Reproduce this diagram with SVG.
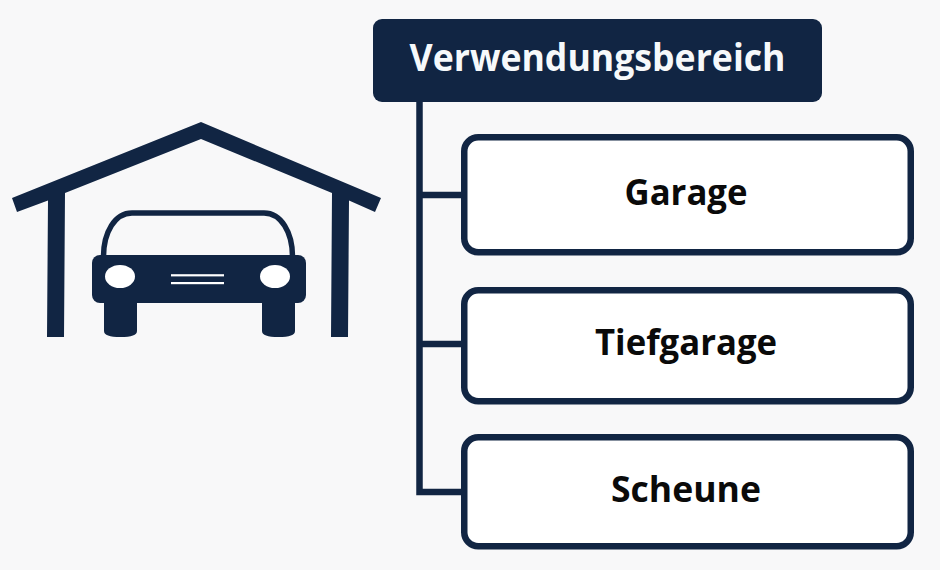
<svg xmlns="http://www.w3.org/2000/svg" width="940" height="570" viewBox="0 0 940 570">
<style>
.navy{fill:#112543}
.box{fill:#fff;stroke:#112543;stroke-width:6.5}
.lbl{font-family:"Open Sans","Liberation Sans",sans-serif;font-weight:700;text-anchor:middle;fill:#0a0a0a;font-size:36px}
.conn{fill:none;stroke:#112543;stroke-width:6.5}
</style>
<rect width="940" height="570" fill="#f8f8f9"/>
<g id="garage-icon">
<path class="navy" d="M201,122 L381,198 L375,212 L349,200.500 L348,337 L331,337 L332,193 L201,139 L65,193 L64,337 L47,337 L48,200.500 L17,212 L12,198 Z"/>
<path d="M103.500,257 C103.500,232 115,213 132,213 L264,213 C281,213 292.500,232 292.500,257" fill="none" stroke="#112543" stroke-width="5.500"/>
<rect class="navy" x="92" y="255" width="214" height="48" rx="8"/>
<path class="navy" d="M104,300 H137 V331 Q137,337 120.500,337 Q104,337 104,331 Z"/>
<path class="navy" d="M262,300 H295 V331 Q295,337 278.500,337 Q262,337 262,331 Z"/>
<ellipse cx="120" cy="276.500" rx="15" ry="11.500" fill="#fff"/>
<ellipse cx="275" cy="276.500" rx="15" ry="11.500" fill="#fff"/>
<rect x="171" y="274.200" width="53" height="2.200" fill="#fff"/>
<rect x="171" y="282" width="53" height="2.200" fill="#fff"/>
</g>
<g id="connectors">
<path class="conn" d="M419.500,100 V492 H464 M419.500,195 H464 M419.500,344 H464"/>
</g>
<g id="header">
<rect class="navy" x="373" y="19" width="449" height="83" rx="9"/>
<text x="597.500" y="71" font-family="Open Sans, Liberation Sans, sans-serif" font-weight="700" font-size="38" text-anchor="middle" fill="#f6f9fb" textLength="376" lengthAdjust="spacingAndGlyphs">Verwendungsbereich</text>
</g>
<g id="node-garage">
<rect class="box" x="464.250" y="137.250" width="446.500" height="115" rx="14"/>
<text class="lbl" x="686" y="205" textLength="123" lengthAdjust="spacingAndGlyphs">Garage</text>
</g>
<g id="node-tiefgarage">
<rect class="box" x="464.250" y="290.250" width="446.500" height="111" rx="14"/>
<text class="lbl" x="686" y="355" textLength="182" lengthAdjust="spacingAndGlyphs">Tiefgarage</text>
</g>
<g id="node-scheune">
<rect class="box" x="464.250" y="437.250" width="446.500" height="109" rx="14"/>
<text class="lbl" x="686" y="502" textLength="150" lengthAdjust="spacingAndGlyphs">Scheune</text>
</g>
</svg>
